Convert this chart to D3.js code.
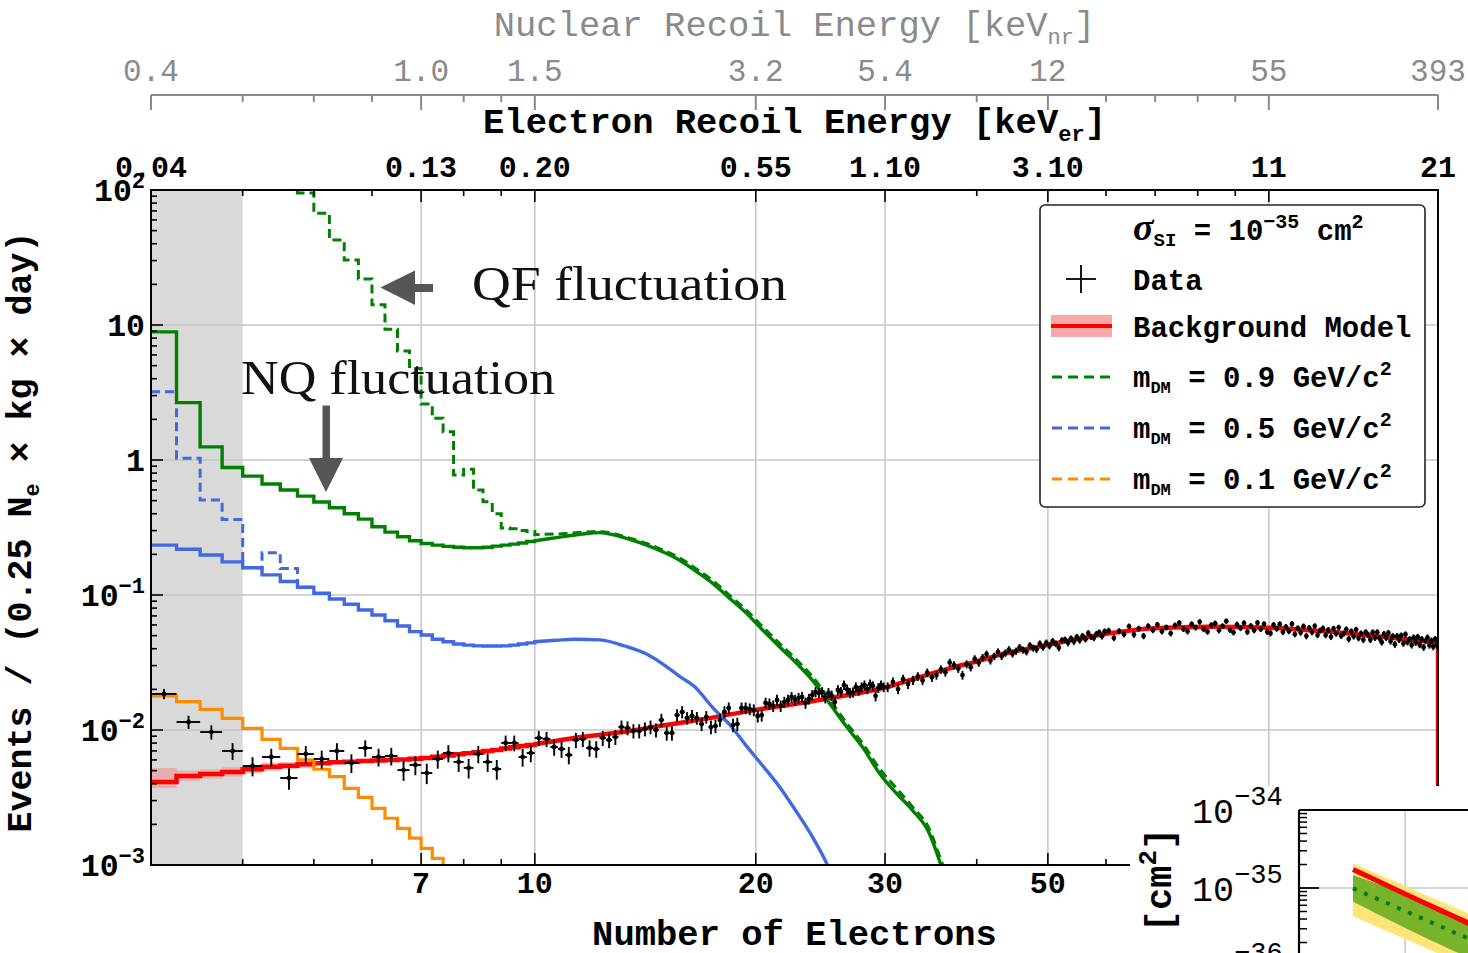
<!DOCTYPE html>
<html>
<head>
<meta charset="utf-8">
<script src="https://cdn.jsdelivr.net/npm/d3@7"></script>
<style>
  html, body { margin: 0; padding: 0; background: #fff; }
  svg { display: block; }
  text { white-space: pre; }
</style>
</head>
<body>
<svg id="chart" width="1468" height="953"></svg>
<script>
// ---------------- axis definitions ----------------
const neTicks = [3, 7, 10, 20, 30, 50, 100, 170];
const erTickLabels = ["0.04", "0.13", "0.20", "0.55", "1.10", "3.10", "11", "21"];
const nrTickLabels = ["0.4", "1.0", "1.5", "3.2", "5.4", "12", "55", "393"];
const bottomTicks = [7, 10, 20, 30, 50];
const minorNeTicks = [4, 5, 6, 8, 9, 40, 60, 70, 80, 90];
const gridNe = [7, 10, 20, 30, 50, 100];
const yDecades = [1e-3, 1e-2, 1e-1, 1, 10, 100];
const thresholdNe = [3, 4];

// ---------------- model spectra (0.25 Ne bins, then smooth tail [Ne, rate]) ----------------
const binWidth = 0.25;

const greenSolidSteps = [8.9, 2.66, 1.25, 0.88, 0.76, 0.664, 0.60, 0.54, 0.489, 0.443, 0.40, 0.365,
  0.32, 0.292, 0.27, 0.252, 0.241, 0.234, 0.229, 0.226, 0.224, 0.224, 0.226, 0.23, 0.234, 0.238, 0.243, 0.249];
const greenSolidTail = [[10, 0.252], [10.5, 0.262], [11, 0.272], [11.6, 0.283], [12.26, 0.29], [12.8, 0.279],
  [13.46, 0.258], [14.2, 0.234], [14.93, 0.209], [15.75, 0.181], [16.6, 0.149], [17.47, 0.122], [18.42, 0.0946],
  [19.43, 0.0731], [20.43, 0.0551], [21.54, 0.0414], [22.73, 0.0312], [23.88, 0.0234], [25.2, 0.0158],
  [26.58, 0.0106], [27.94, 0.0075], [29.47, 0.00479], [31.09, 0.0034], [32.68, 0.00255], [34.46, 0.00172],
  [35.56, 0.00109], [36.2, 0.0008]];

const greenDashedFrom = 4.5;
const greenDashedSteps = [150, 95, 67.2, 42.6, 30.3, 21.9, 14.1, 9.29, 6.41, 4.77, 2.6, 2.04, 1.62, 0.775,
  0.853, 0.60, 0.49, 0.40, 0.313, 0.31, 0.30, 0.295];
const greenDashedTail = [[10, 0.28], [11, 0.285], [12.26, 0.296], [12.8, 0.285], [13.46, 0.264], [14.2, 0.241],
  [14.93, 0.216], [15.75, 0.188], [16.6, 0.156], [17.47, 0.128], [18.42, 0.0995], [19.43, 0.0771], [20.43, 0.0583],
  [21.54, 0.0438], [22.73, 0.0331], [23.88, 0.0249], [25.2, 0.0168], [26.58, 0.0113], [27.94, 0.0080],
  [29.47, 0.0052], [31.09, 0.0037], [32.68, 0.0027], [34.46, 0.00185], [35.56, 0.00118], [36.5, 0.0008]];

const blueSolidSteps = [0.234, 0.218, 0.198, 0.176, 0.159, 0.141, 0.126, 0.114, 0.103, 0.0933, 0.0853, 0.0774,
  0.0711, 0.0645, 0.0589, 0.0535, 0.0506, 0.047, 0.045, 0.0433, 0.0425, 0.042, 0.0419, 0.0419, 0.042, 0.0425,
  0.0433, 0.0442];
const blueSolidTail = [[10, 0.0451], [10.7, 0.0462], [11.34, 0.047], [12.26, 0.0465], [13.26, 0.0419],
  [14.2, 0.0365], [14.79, 0.032], [15.75, 0.025], [16.5, 0.021], [17.5, 0.0145], [18.5, 0.0107], [19.43, 0.0076],
  [20.4, 0.0055], [21.54, 0.0038], [22.7, 0.0025], [23.88, 0.00162], [25.04, 0.001], [25.5, 0.0008]];

const blueDashedSteps = [3.2, 1.03, 0.506, 0.363, 0.159, 0.206, 0.157, 0.114];

const orangeSteps = [0.01787, 0.0162, 0.0142, 0.0122, 0.01028, 0.00853, 0.00731, 0.006, 0.00512, 0.00451,
  0.0037, 0.00317, 0.00263, 0.00222, 0.00187, 0.00158, 0.00133, 0.00112, 0.0009];

const backgroundSteps = [0.00412, 0.00456, 0.00472, 0.00489, 0.00512, 0.00535, 0.00544, 0.00557, 0.00566,
  0.00576, 0.00582, 0.0059, 0.00595, 0.006, 0.00604, 0.00612, 0.0062, 0.00633, 0.00646, 0.0066, 0.00672,
  0.00685, 0.00698, 0.0071, 0.0073, 0.00745, 0.0076, 0.00773];
const backgroundTail = [[10, 0.00783], [11.51, 0.00883], [13.26, 0.0097], [14.79, 0.0107], [16.77, 0.0119],
  [20, 0.0141], [22.94, 0.0158], [26, 0.0177], [30, 0.0206], [33.4, 0.0246], [36.7, 0.0286], [39.9, 0.0321],
  [42.9, 0.036], [50, 0.0427], [58.7, 0.0506], [69.7, 0.0567], [82.9, 0.0582], [100, 0.0573], [120.7, 0.0535],
  [145.6, 0.0485], [170, 0.0444]];
const backgroundBandLow = [0.00372, 0.0042, 0.00437, 0.00452, 0.00476, 0.005, 0.0051, 0.0052];
const backgroundBandHigh = [0.00524, 0.005, 0.00512, 0.0053, 0.0055, 0.00572, 0.0058, 0.0059];

// ---------------- measured spectrum ----------------
// 0.25-Ne bins from Ne = 3
const dataFine = [0.0185, 0.01146, 0.00966, 0.00699, 0.00541, 0.00631, 0.00441, 0.00664, 0.0061, 0.00699,
  0.0057, 0.00736, 0.00631, 0.00642, 0.00505, 0.00551, 0.0048, 0.0061, 0.00675, 0.0058, 0.00524, 0.00664,
  0.0058, 0.00514, 0.00802, 0.00802, 0.0063, 0.00675, 0.00873, 0.00858, 0.00748, 0.00723, 0.00653, 0.00843,
  0.00858, 0.00736, 0.00723,
  0.00873, 0.00843, 0.00887, 0.01052, 0.01035, 0.00984, 0.00984, 0.01017, 0.01052, 0.0100,
  0.01187, 0.0095, 0.0095, 0.0129, 0.0136, 0.01227, 0.0127, 0.01227, 0.01107, 0.01248,
  0.01052, 0.0107, 0.01187, 0.0136, 0.01455, 0.01088, 0.01107, 0.01455, 0.01455, 0.0143,
  0.01406, 0.0127, 0.0129, 0.01585, 0.0156, 0.01507, 0.01668, 0.01507, 0.0161, 0.01668,
  0.01755, 0.01668, 0.01725, 0.01755, 0.01585, 0.01698, 0.01816, 0.0191, 0.0188, 0.0191,
  0.0173, 0.0188, 0.0180, 0.0161, 0.0198, 0.0192, 0.0215, 0.0200, 0.0188, 0.0190, 0.0208,
  0.0196, 0.0208, 0.0215, 0.0201, 0.0219, 0.0212, 0.0179, 0.0205, 0.0215, 0.0208];
// 0.5-Ne bins from Ne = 30 (rate per 0.25 Ne)
const dataMid = [0.0208, 0.0227, 0.0201, 0.0238, 0.0219, 0.0234, 0.0249, 0.0233, 0.0266, 0.0246,
  0.0255, 0.0281, 0.0268, 0.0316, 0.0302, 0.0285, 0.0255, 0.0307, 0.0292, 0.0336,
  0.0315, 0.0344, 0.0365, 0.0327, 0.0351, 0.0379, 0.0352, 0.0372, 0.0394, 0.0367,
  0.0384, 0.0409, 0.0392, 0.0380, 0.0423, 0.0405, 0.0396, 0.0436, 0.0411, 0.0443,
  0.0420, 0.0455, 0.0436, 0.0407, 0.0461, 0.0466, 0.0442, 0.0476, 0.0452, 0.0489,
  0.0462, 0.0497, 0.0471, 0.0522, 0.0490, 0.0481, 0.0515, 0.0528, 0.0494, 0.0537];
// 1-Ne bins from Ne = 60 (rate per 0.25 Ne)
const dataWide = [0.0544, 0.0481, 0.0539, 0.0512, 0.0586, 0.0510, 0.0564, 0.0497, 0.0589, 0.0549,
  0.0602, 0.0538, 0.0575, 0.0520, 0.0596, 0.0621, 0.0560, 0.0538, 0.0608, 0.0574,
  0.0633, 0.0558, 0.0535, 0.0599, 0.0617, 0.0547, 0.0588, 0.0640, 0.0552, 0.0529,
  0.0603, 0.0568, 0.0620, 0.0533, 0.0590, 0.0548, 0.0623, 0.0559, 0.0610, 0.0534,
  0.0521, 0.0600, 0.0563, 0.0608, 0.0532, 0.0581, 0.0540, 0.0610, 0.0513, 0.0567,
  0.0527, 0.0586, 0.0496, 0.0571, 0.0531, 0.0589, 0.0505, 0.0546, 0.0566, 0.0505,
  0.0551, 0.0490, 0.0563, 0.0518, 0.0574, 0.0499, 0.0518, 0.0557, 0.0472, 0.0538,
  0.0494, 0.0554, 0.0480, 0.0519, 0.0466, 0.0530, 0.0508, 0.0466, 0.0529, 0.0482,
  0.0530, 0.0478, 0.0447, 0.0513, 0.0482, 0.0524, 0.0454, 0.0495, 0.0431, 0.0496,
  0.0466, 0.0501, 0.0438, 0.0511, 0.0448, 0.0470, 0.0426, 0.0484, 0.0445, 0.0489,
  0.0428, 0.0471, 0.0410, 0.0458, 0.0484, 0.0425, 0.0459, 0.0414, 0.0471, 0.0425];
const countsPerRate = 7000; // events per unit rate in a 0.25-Ne bin (sets Poisson error bars)

// ---------------- cross-section limit panel ----------------
const insetMass = [0.67, 0.8, 1.0, 1.2, 1.4, 1.7];
const insetObserved = [1.73e-35, 1.26e-35, 8.4e-36, 6.05e-36, 4.6e-36, 3.25e-36];
const insetMedian = [9.9e-36, 7.36e-36, 5.07e-36, 3.73e-36, 2.88e-36, 2.09e-36];
const insetOneSigmaHi = [1.47e-35, 1.15e-35, 8.37e-36, 6.35e-36, 4.98e-36, 3.66e-36];
const insetOneSigmaLo = [6.64e-36, 4.72e-36, 3.07e-36, 2.19e-36, 1.67e-36, 1.19e-36];
const insetTwoSigmaHi = [2.07e-35, 1.54e-35, 1.06e-35, 7.8e-36, 6.04e-36, 4.37e-36];
const insetTwoSigmaLo = [4.33e-36, 3.22e-36, 2.22e-36, 1.63e-36, 1.26e-36, 9.1e-37];
const insetYTicks = [1e-34, 1e-35, 1e-36];
const insetGridMass = [1.0];

// ---------------- colours ----------------
const GREEN = "#008000", BLUE = "#4169e1", ORANGE = "#ff8c00", RED = "#ff0000";
const MONO = "'Liberation Mono', 'Courier New', monospace";
const SERIF = "'Liberation Serif', 'Times New Roman', serif";

// ---------------- scales ----------------
const svg = d3.select("#chart");
const plot = { left: 151, right: 1438, top: 190, bottom: 865 };
const x = d3.scaleLog().domain([3, 170]).range([plot.left, plot.right]);
const y = d3.scaleLog().domain([1e-3, 100]).range([plot.bottom, plot.top]);

// text with sub/superscripts
function rich(parent, segs, o) {
  const t = parent.append("text")
    .attr("x", o.x || 0).attr("y", o.y || 0)
    .attr("font-family", o.family || MONO)
    .attr("font-size", o.size)
    .attr("font-weight", o.weight || "bold")
    .attr("fill", o.fill || "#000")
    .attr("text-anchor", o.anchor || "start");
  if (o.transform) t.attr("transform", o.transform);
  let prev = 0;
  segs.forEach(s => {
    let shift = 0, size = o.size;
    if (s.sup) { shift = s.shift !== undefined ? s.shift : -o.size * 0.42; size = s.size || o.size * 0.68; }
    if (s.sub) { shift = s.shift !== undefined ? s.shift : o.size * 0.22; size = s.size || o.size * 0.62; }
    if (!s.sup && !s.sub && s.size) size = s.size;
    const ts = t.append("tspan").attr("dy", shift - prev).attr("font-size", size).text(s.t);
    if (s.family) ts.attr("font-family", s.family);
    if (s.style) ts.attr("font-style", s.style);
    prev = shift;
  });
  return t;
}

const defs = svg.append("defs");
defs.append("clipPath").attr("id", "plotClip").append("rect")
  .attr("x", plot.left).attr("y", plot.top)
  .attr("width", plot.right - plot.left).attr("height", plot.bottom - plot.top);

// threshold region
svg.append("rect")
  .attr("x", x(thresholdNe[0])).attr("y", plot.top)
  .attr("width", x(thresholdNe[1]) - x(thresholdNe[0]))
  .attr("height", plot.bottom - plot.top)
  .attr("fill", "#d9d9d9");

// grid
const grid = svg.append("g").attr("stroke", "#c6c6c6").attr("stroke-width", 1.5);
gridNe.forEach(n => grid.append("line").attr("x1", x(n)).attr("x2", x(n)).attr("y1", plot.top).attr("y2", plot.bottom));
yDecades.slice(1, -1).forEach(v => grid.append("line").attr("x1", plot.left).attr("x2", plot.right).attr("y1", y(v)).attr("y2", y(v)));

// ---------------- histograms ----------------
const stepLine = d3.line().x(d => x(d[0])).y(d => y(d[1])).curve(d3.curveStepAfter);
const smoothLine = d3.line().x(d => x(d[0])).y(d => y(d[1])).curve(d3.curveMonotoneX);
function stepPts(from, vals) {
  const p = vals.map((v, i) => [from + i * binWidth, v]);
  p.push([from + vals.length * binWidth, vals[vals.length - 1]]);
  return p;
}
function histPath(from, vals, tail) {
  let d = stepLine(stepPts(from, vals));
  if (tail) d += smoothLine(tail).replace(/^M/, "L");
  return d;
}

const curves = svg.append("g").attr("clip-path", "url(#plotClip)");

// background uncertainty band
const bandPts = backgroundBandLow.map((v, i) => [3 + i * binWidth, v, backgroundBandHigh[i]]);
bandPts.push([3 + backgroundBandLow.length * binWidth, backgroundBandLow[backgroundBandLow.length - 1], backgroundBandHigh[backgroundBandHigh.length - 1]]);
curves.append("path")
  .attr("d", d3.area().x(d => x(d[0])).y0(d => y(d[1])).y1(d => y(d[2])).curve(d3.curveStepAfter)(bandPts))
  .attr("fill", "#f08a8a").attr("fill-opacity", 0.55);

// background model (drops to zero after the last bin)
const lastBg = backgroundTail[backgroundTail.length - 1];
curves.append("path")
  .attr("d", histPath(3, backgroundSteps, backgroundTail) + `L${x(lastBg[0])},${plot.bottom + 5}`)
  .attr("fill", "none").attr("stroke", RED).attr("stroke-width", 4.5);

// dark-matter signal models
curves.append("path").attr("d", histPath(3, orangeSteps, null))
  .attr("fill", "none").attr("stroke", ORANGE).attr("stroke-width", 3.2);
curves.append("path").attr("d", histPath(3, blueDashedSteps, null))
  .attr("fill", "none").attr("stroke", BLUE).attr("stroke-width", 3).attr("stroke-dasharray", "9,5");
curves.append("path").attr("d", histPath(3, blueSolidSteps, blueSolidTail))
  .attr("fill", "none").attr("stroke", BLUE).attr("stroke-width", 3.4);
curves.append("path").attr("d", histPath(greenDashedFrom, greenDashedSteps, greenDashedTail))
  .attr("fill", "none").attr("stroke", GREEN).attr("stroke-width", 3).attr("stroke-dasharray", "9,5");
curves.append("path").attr("d", histPath(3, greenSolidSteps, greenSolidTail))
  .attr("fill", "none").attr("stroke", GREEN).attr("stroke-width", 3.4);

// ---------------- data points ----------------
function bins(start, width, vals) {
  return vals.map((v, i) => ({ ne: start + (i + 0.5) * width, rate: v }));
}
const dataPoints = [].concat(bins(3, 0.25, dataFine), bins(30, 0.5, dataMid), bins(60, 1, dataWide));
const dataG = svg.append("g").attr("clip-path", "url(#plotClip)");
dataPoints.forEach(p => {
  const err = Math.sqrt(p.rate / countsPerRate);
  dataG.append("line").attr("x1", x(p.ne)).attr("x2", x(p.ne))
    .attr("y1", y(p.rate - err)).attr("y2", y(p.rate + err))
    .attr("stroke", "#000").attr("stroke-width", 1.9);
  dataG.append("line").attr("x1", x(p.ne - binWidth / 2)).attr("x2", x(p.ne + binWidth / 2))
    .attr("y1", y(p.rate)).attr("y2", y(p.rate))
    .attr("stroke", "#000").attr("stroke-width", 1.9);
  dataG.append("circle").attr("cx", x(p.ne)).attr("cy", y(p.rate)).attr("r", 2.4).attr("fill", "#000");
});

// ---------------- frame and ticks ----------------
svg.append("rect").attr("x", plot.left).attr("y", plot.top)
  .attr("width", plot.right - plot.left).attr("height", plot.bottom - plot.top)
  .attr("fill", "none").attr("stroke", "#000").attr("stroke-width", 2);

const ticks = svg.append("g").attr("stroke", "#000").attr("stroke-width", 1.6);
gridNe.forEach(n => {
  ticks.append("line").attr("x1", x(n)).attr("x2", x(n)).attr("y1", plot.top).attr("y2", plot.top + 12);
  ticks.append("line").attr("x1", x(n)).attr("x2", x(n)).attr("y1", plot.bottom).attr("y2", plot.bottom - 12);
});
minorNeTicks.forEach(n => {
  ticks.append("line").attr("x1", x(n)).attr("x2", x(n)).attr("y1", plot.top).attr("y2", plot.top + 6);
  ticks.append("line").attr("x1", x(n)).attr("x2", x(n)).attr("y1", plot.bottom).attr("y2", plot.bottom - 6);
});
yDecades.forEach((v, i) => {
  ticks.append("line").attr("x1", plot.left).attr("x2", plot.left + 12).attr("y1", y(v)).attr("y2", y(v));
  if (i < yDecades.length - 1) {
    for (let k = 2; k <= 9; k++) {
      ticks.append("line").attr("x1", plot.left).attr("x2", plot.left + 6)
        .attr("y1", y(v * k)).attr("y2", y(v * k));
    }
  }
});

// y tick labels
yDecades.forEach(v => {
  const e = Math.round(Math.log10(v));
  let segs;
  if (e === 0) segs = [{ t: "1" }];
  else if (e === 1) segs = [{ t: "10" }];
  else segs = [{ t: "10" }, { t: (e < 0 ? "\u2212" : "") + Math.abs(e), sup: true, shift: -13, size: 22 }];
  rich(svg, segs, { x: 145, y: y(v) + 11, size: 31.5, anchor: "end" });
});

// bottom tick labels
bottomTicks.forEach(n => {
  svg.append("text").attr("x", x(n)).attr("y", 893)
    .attr("font-family", MONO).attr("font-weight", "bold").attr("font-size", 30)
    .attr("text-anchor", "middle").text(n);
});

// electron-recoil energy labels on the top edge
neTicks.forEach((n, i) => {
  svg.append("text").attr("x", x(n)).attr("y", 177)
    .attr("font-family", MONO).attr("font-weight", "bold").attr("font-size", 30)
    .attr("text-anchor", "middle").text(erTickLabels[i]);
});

// nuclear-recoil energy axis
const GREY = "#8a8a8a";
const nr = svg.append("g").attr("stroke", GREY).attr("stroke-width", 2);
nr.append("line").attr("x1", plot.left).attr("x2", plot.right).attr("y1", 95).attr("y2", 95);
neTicks.forEach(n => nr.append("line").attr("x1", x(n)).attr("x2", x(n)).attr("y1", 95).attr("y2", 110));
minorNeTicks.forEach(n => nr.append("line").attr("x1", x(n)).attr("x2", x(n)).attr("y1", 95).attr("y2", 102));
neTicks.forEach((n, i) => {
  svg.append("text").attr("x", x(n)).attr("y", 81)
    .attr("font-family", MONO).attr("font-weight", "normal").attr("font-size", 31)
    .attr("fill", GREY).attr("text-anchor", "middle").text(nrTickLabels[i]);
});

// axis titles
const midX = (plot.left + plot.right) / 2;
rich(svg, [{ t: "Nuclear Recoil Energy [keV" }, { t: "nr", sub: true }, { t: "]" }],
  { x: midX, y: 36, size: 35.5, anchor: "middle", fill: GREY, weight: "normal" });
rich(svg, [{ t: "Electron Recoil Energy [keV" }, { t: "er", sub: true }, { t: "]" }],
  { x: midX, y: 133, size: 35.5, anchor: "middle" });
rich(svg, [{ t: "Number of Electrons" }], { x: midX, y: 945, size: 35.5, anchor: "middle" });
rich(svg, [{ t: "Events / (0.25 N" }, { t: "e", sub: true }, { t: " \u00d7 kg \u00d7 day)" }],
  { size: 35, anchor: "middle", transform: "translate(31,532) rotate(-90)" });

// ---------------- annotations ----------------
svg.append("text").attr("x", 472).attr("y", 300)
  .attr("font-family", SERIF).attr("font-size", 48)
  .attr("textLength", 315).attr("lengthAdjust", "spacingAndGlyphs")
  .attr("fill", "#111").text("QF fluctuation");
svg.append("text").attr("x", 241).attr("y", 394)
  .attr("font-family", SERIF).attr("font-size", 48)
  .attr("textLength", 314).attr("lengthAdjust", "spacingAndGlyphs")
  .attr("fill", "#111").text("NQ fluctuation");
// left-pointing arrow
svg.append("path")
  .attr("d", "M380.5,287.5 L415,270.5 L415,284 L433,284 L433,292 L415,292 L415,305 Z")
  .attr("fill", "#555");
// down-pointing arrow
svg.append("path")
  .attr("d", "M326,492 L309,458 L322.5,458 L322.5,405.5 L330,405.5 L330,458 L343,458 Z")
  .attr("fill", "#555");

// ---------------- legend ----------------
const lg = svg.append("g");
lg.append("rect").attr("x", 1040).attr("y", 205).attr("width", 385).attr("height", 302)
  .attr("rx", 5).attr("fill", "#fff").attr("stroke", "#222").attr("stroke-width", 1.6);
rich(lg, [
  { t: "\u03c3", family: SERIF, style: "italic", size: 38 },
  { t: "SI", sub: true, size: 19, shift: 6 },
  { t: " = 10", shift: 0 },
  { t: "\u221235", sup: true, size: 20, shift: -12 },
  { t: " cm", shift: 0 },
  { t: "2", sup: true, size: 20, shift: -12 }
], { x: 1133, y: 240, size: 29 });
// Data
lg.append("line").attr("x1", 1066).attr("x2", 1096).attr("y1", 279).attr("y2", 279).attr("stroke", "#000").attr("stroke-width", 1.8);
lg.append("line").attr("x1", 1081).attr("x2", 1081).attr("y1", 265).attr("y2", 293).attr("stroke", "#000").attr("stroke-width", 1.8);
rich(lg, [{ t: "Data" }], { x: 1133, y: 290, size: 29 });
// Background
lg.append("rect").attr("x", 1051).attr("y", 315).attr("width", 61).attr("height", 22).attr("fill", "#f9a8a8");
lg.append("line").attr("x1", 1051).attr("x2", 1112).attr("y1", 326).attr("y2", 326).attr("stroke", RED).attr("stroke-width", 4);
rich(lg, [{ t: "Background Model" }], { x: 1133, y: 337, size: 29 });
// signal models
const legendModels = [
  { color: GREEN, mass: "0.9", ly: 377, ty: 387 },
  { color: BLUE, mass: "0.5", ly: 428, ty: 438 },
  { color: ORANGE, mass: "0.1", ly: 479, ty: 489 }
];
legendModels.forEach(m => {
  lg.append("line").attr("x1", 1052).attr("x2", 1112).attr("y1", m.ly).attr("y2", m.ly)
    .attr("stroke", m.color).attr("stroke-width", 3).attr("stroke-dasharray", "10,6");
  rich(lg, [
    { t: "m" },
    { t: "DM", sub: true, size: 17, shift: 6 },
    { t: " = " + m.mass + " GeV/c", shift: 0 },
    { t: "2", sup: true, size: 20, shift: -12 }
  ], { x: 1133, y: m.ty, size: 29 });
});

// ---------------- cross-section limit panel (lower right) ----------------
const inset = svg.append("g");
inset.append("rect").attr("x", 1130).attr("y", 786).attr("width", 340).attr("height", 170).attr("fill", "#fff");
const ix = d3.scaleLog().domain([0.4426, 2]).range([1299, 1299 + 300 * Math.log10(2 / 0.4426)]);
const iy = d3.scaleLog().domain([1e-36, 1e-34]).range([966, 810]);
defs.append("clipPath").attr("id", "insetClip").append("rect")
  .attr("x", 1299).attr("y", 810).attr("width", 200).attr("height", 200);

const ig = inset.append("g").attr("clip-path", "url(#insetClip)");
insetGridMass.forEach(m => ig.append("line").attr("x1", ix(m)).attr("x2", ix(m)).attr("y1", 810).attr("y2", 1000)
  .attr("stroke", "#c6c6c6").attr("stroke-width", 1.5));
ig.append("line").attr("x1", 1299).attr("x2", 1500).attr("y1", iy(1e-35)).attr("y2", iy(1e-35))
  .attr("stroke", "#c6c6c6").attr("stroke-width", 1.5);

const bandArea = (lo, hi) => d3.area()
  .x((d, i) => ix(insetMass[i])).y0((d, i) => iy(lo[i])).y1((d, i) => iy(hi[i]))
  .curve(d3.curveMonotoneX)(insetMass);
ig.append("path").attr("d", bandArea(insetTwoSigmaLo, insetTwoSigmaHi)).attr("fill", "#ffe47a");
ig.append("path").attr("d", bandArea(insetOneSigmaLo, insetOneSigmaHi)).attr("fill", "#79b32b");
const insetLine = vals => d3.line().x((d, i) => ix(insetMass[i])).y((d, i) => iy(vals[i])).curve(d3.curveMonotoneX)(insetMass);
ig.append("path").attr("d", insetLine(insetMedian)).attr("fill", "none")
  .attr("stroke", GREEN).attr("stroke-width", 4).attr("stroke-dasharray", "4,8");
ig.append("path").attr("d", insetLine(insetObserved)).attr("fill", "none")
  .attr("stroke", RED).attr("stroke-width", 5);

// panel frame and ticks
inset.append("line").attr("x1", 1299).attr("x2", 1470).attr("y1", 810).attr("y2", 810).attr("stroke", "#000").attr("stroke-width", 2.2);
inset.append("line").attr("x1", 1299).attr("x2", 1299).attr("y1", 810).attr("y2", 955).attr("stroke", "#000").attr("stroke-width", 2.2);
insetYTicks.forEach((v, i) => {
  inset.append("line").attr("x1", 1299).attr("x2", 1319).attr("y1", iy(v)).attr("y2", iy(v))
    .attr("stroke", "#000").attr("stroke-width", 1.8);
  if (i > 0) {
    for (let k = 2; k <= 9; k++) {
      inset.append("line").attr("x1", 1299).attr("x2", 1307).attr("y1", iy(v * k)).attr("y2", iy(v * k))
        .attr("stroke", "#000").attr("stroke-width", 1.5);
    }
  }
  const e = Math.round(Math.log10(v));
  rich(inset, [{ t: "10" }, { t: "\u2212" + Math.abs(e), sup: true, size: 27, shift: -18 }],
    { x: 1192, y: iy(v) + 13, size: 35, weight: "normal" });
});
rich(inset, [{ t: "[cm" }, { t: "2", sup: true, size: 26, shift: -15 }, { t: "]" }],
  { size: 37, anchor: "middle", transform: "translate(1171,880) rotate(-90)" });
</script>
</body>
</html>
